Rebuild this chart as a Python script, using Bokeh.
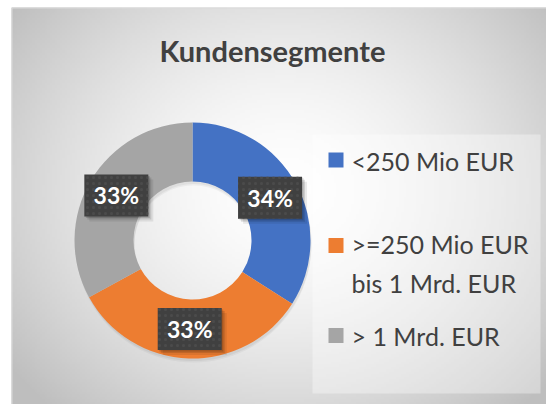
import numpy as np
from bokeh.plotting import figure
from bokeh.models import Range1d, ColumnDataSource
from bokeh.core.properties import value
from bokeh.embed import file_html
from bokeh.resources import INLINE

# ---- data ----
categories = ["<250 Mio EUR", ">=250 Mio EUR\nbis 1 Mrd. EUR", "> 1 Mrd. EUR"]
shares = [34, 33, 33]
pct_labels = ["34%", "33%", "33%"]
colors = ["#4472C4", "#ED7D31", "#A5A5A5"]
title_text = "Kundensegmente"

W, H = 546, 404
p = figure(width=W, height=H, output_backend="svg", toolbar_location=None,
           x_range=Range1d(0, W), y_range=Range1d(0, H),
           min_border=0, background_fill_color="white", border_fill_color="white")
p.axis.visible = False
p.grid.visible = False
p.outline_line_color = None

# ---- radial gradient background (style) ----
nx, ny = 214, 159
x0, x1 = 11, 546
y0, y1 = 0, 397
xs = np.linspace(x0, x1, nx)
ys = np.linspace(y0, y1, ny)
XX, YY = np.meshgrid(xs, ys)
cx, cy = 285, 404 - 190
d = np.sqrt((XX - cx) ** 2 + ((YY - cy) * 1.15) ** 2) / 330.0
g = 255 - 60 * np.clip(d, 0, 1.2) ** 1.6
g = np.clip(g, 190, 255).astype(np.uint32)
img = (255 << 24) | (g << 16) | (g << 8) | g
p.image_rgba(image=[img.astype(np.uint32)], x=x0, y=y0, dw=x1 - x0, dh=y1 - y0)
p.quad(left=x0 + 0.5, right=x1 + 2, bottom=y0 - 2, top=y1 - 0.5, fill_color=None,
       line_color="#d9d9d9", line_width=1)

# ---- title ----
p.text(x=[272], y=[404 - 50], text=[title_text], text_font=value("Lato"),
       text_font_style="bold", text_font_size="29px", text_color="#404040",
       text_align="center", text_baseline="middle")

# ---- donut ----
frac = np.array(shares, dtype=float) / sum(shares)
cum = np.concatenate([[0], np.cumsum(frac)])
start = np.pi / 2 - 2 * np.pi * cum[:-1]
end = np.pi / 2 - 2 * np.pi * cum[1:]
CX, CY = 192, 404 - 240
R_OUT, R_IN = 118, 59
src = ColumnDataSource(dict(start=start, end=end, color=colors, label=pct_labels,
                            cat=categories))
# soft shadow
for k, a in [(4, 0.04), (2.5, 0.05)]:
    p.annular_wedge(x=CX + 1, y=CY - k, inner_radius=R_IN, outer_radius=R_OUT,
                    start_angle=start[0], end_angle=start[0] - 2 * np.pi + 1e-6,
                    direction="clock", fill_color="black", fill_alpha=a, line_color=None)
p.annular_wedge(x=CX, y=CY, inner_radius=R_IN, outer_radius=R_OUT,
                start_angle="start", end_angle="end", direction="clock",
                fill_color="color", line_color=None, source=src)

# ---- data labels ----
mid = (start + end) / 2
r_lab = (R_OUT + R_IN) / 2
lx = CX + r_lab * np.cos(mid)
ly = CY + r_lab * np.sin(mid)
lab = ColumnDataSource(dict(x=lx, y=ly, t=pct_labels))
for k, a in [(5, 0.08), (3, 0.12), (1.5, 0.15)]:
    p.rect(x=lx + k, y=ly - k, width=64, height=42, width_units="screen",
           height_units="screen", fill_color="black", fill_alpha=a, line_color=None)
p.rect(x="x", y="y", width=64, height=42, width_units="screen", height_units="screen",
       fill_color="#404040", line_color=None, hatch_pattern="dot", hatch_color="#4b4b4b",
       hatch_scale=6, hatch_weight=1.5, source=lab)
p.text(x="x", y="y", text="t", text_font=value("Lato"), text_font_style="bold",
       text_font_size="23px", text_color="white", text_align="center",
       text_baseline="middle", source=lab)

# ---- legend ----
p.quad(left=312, right=540, bottom=404 - 393, top=404 - 134, fill_color="white",
       fill_alpha=0.35, line_color=None)
sq_y = [404 - 159.5, 404 - 245, 404 - 335]
txt_y = [404 - 160, 404 - 263, 404 - 335]
leg = ColumnDataSource(dict(x=[335.5] * 3, y=sq_y, tx=[351] * 3, ty=txt_y,
                            color=colors, t=categories))
p.rect(x="x", y="y", width=15, height=15, width_units="screen", height_units="screen",
       fill_color="color", line_color=None, source=leg)
p.text(x="tx", y="ty", text="t", text_font=value("Lato"), text_font_size="25px",
       text_color="#404040", text_align="left", text_baseline="middle",
       text_line_height=1.3, source=leg)

open("out.html", "w").write(file_html(p, INLINE))
